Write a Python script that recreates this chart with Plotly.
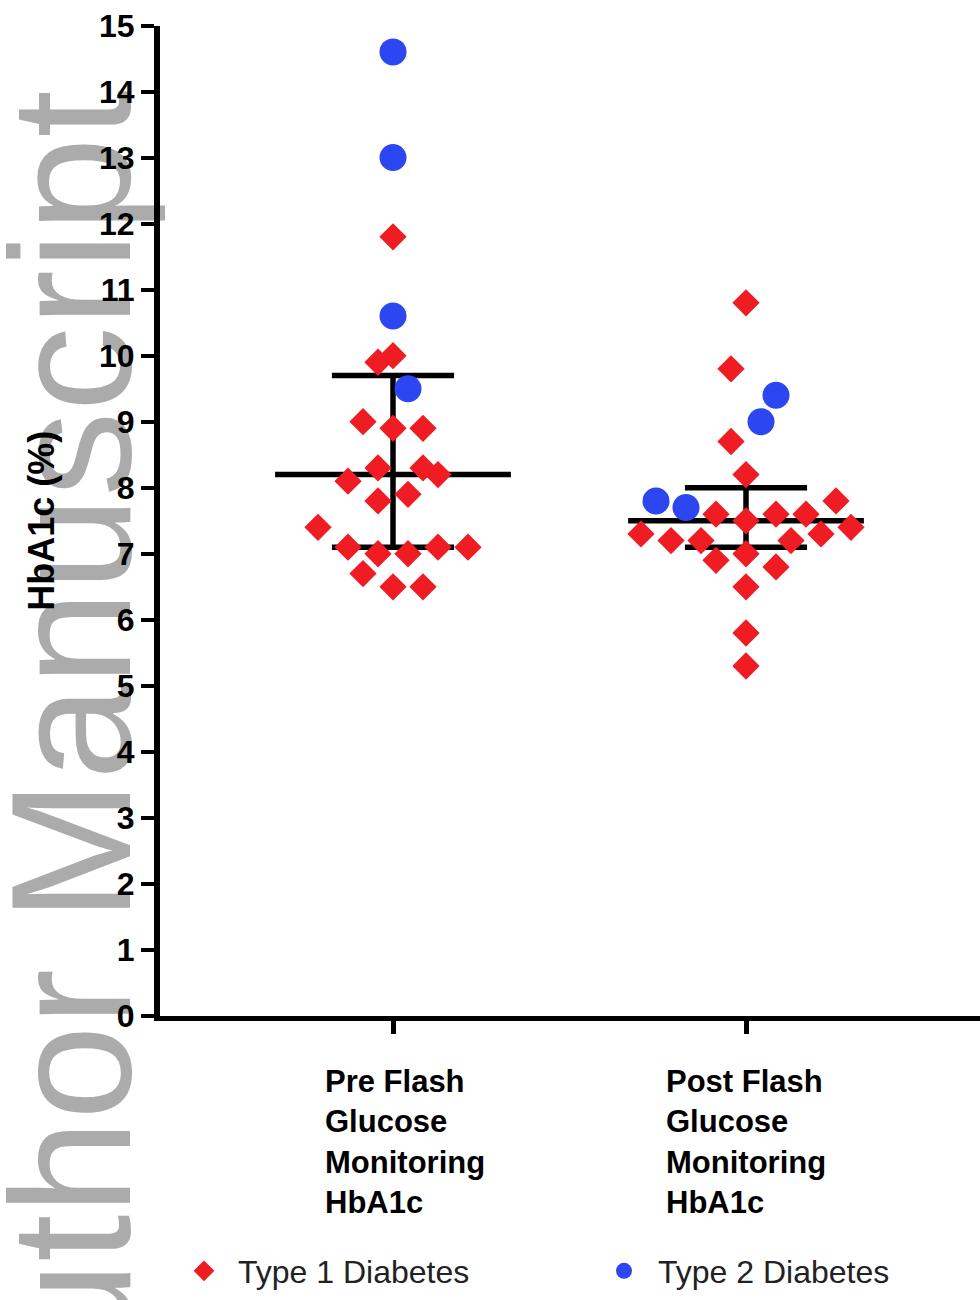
import plotly.graph_objects as go

# ---------------- data ----------------
categories = ["Pre Flash<br>Glucose<br>Monitoring<br>HbA1c",
              "Post Flash<br>Glucose<br>Monitoring<br>HbA1c"]
y_ticks = list(range(0, 16))

# HbA1c values (%) for each group; *_slot = side-by-side scatter column of each point
pre_t1 = [11.8, 10.0, 9.9, 9.0, 8.9, 8.9, 8.3, 8.3, 8.2, 8.1, 7.9, 7.8, 7.4,
          7.1, 7.1, 7.1, 7.0, 7.0, 6.7, 6.5, 6.5]
pre_t1_slot = [0, 0, -1, -2, 0, 2, -1, 2, 3, -3, 1, -1, -5,
               -3, 3, 5, -1, 1, -2, 0, 2]
pre_t2 = [14.6, 13.0, 10.6, 9.5]
pre_t2_slot = [0, 0, 0, 1]

post_t1 = [10.8, 9.8, 8.7, 8.2, 7.8, 7.6, 7.6, 7.6, 7.5, 7.4, 7.3, 7.3,
           7.2, 7.2, 7.2, 7.0, 6.9, 6.8, 6.5, 5.8, 5.3]
post_t1_slot = [0, -1, -1, 0, 6, -2, 2, 4, 0, 7, -7, 5,
                -5, -3, 3, 0, -2, 2, 0, 0, 0]
post_t2 = [9.4, 9.0, 7.8, 7.7]
post_t2_slot = [2, 1, -6, -4]

# median with interquartile range
medians = [8.2, 7.5]
q1 = [7.1, 7.1]
q3 = [9.7, 8.0]

series_names = ["Type 1 Diabetes", "Type 2 Diabetes"]

# ---------------- figure ----------------
W, H = 980, 1300
cat_x = [1, 2]
SLOT = 15 / 353.0        # width of one scatter column in axis units
MED_HALF = 0.334         # half length of the median bar
CAP_HALF = 0.173         # half length of the quartile caps


def xs(center, slots):
    return [center + s * SLOT for s in slots]


t1_x = xs(cat_x[0], pre_t1_slot) + xs(cat_x[1], post_t1_slot)
t1_y = pre_t1 + post_t1
t2_x = xs(cat_x[0], pre_t2_slot) + xs(cat_x[1], post_t2_slot)
t2_y = pre_t2 + post_t2

lx, ly = [], []
for c, m, lo, hi in zip(cat_x, medians, q1, q3):
    lx += [c - MED_HALF, c + MED_HALF, None]
    ly += [m, m, None]
    lx += [c - CAP_HALF, c + CAP_HALF, None]
    ly += [hi, hi, None]
    lx += [c - CAP_HALF, c + CAP_HALF, None]
    ly += [lo, lo, None]
    lx += [c, c, None]
    ly += [lo, hi, None]

fig = go.Figure()
fig.add_trace(go.Scatter(x=lx, y=ly, mode="lines", showlegend=False,
                         line=dict(color="black", width=5.5), hoverinfo="skip"))
fig.add_trace(go.Scatter(x=t1_x, y=t1_y, mode="markers", name=series_names[0],
                         marker=dict(symbol="diamond", size=21, color="#F01C24",
                                     line=dict(width=0))))
fig.add_trace(go.Scatter(x=t2_x, y=t2_y, mode="markers", name=series_names[1],
                         marker=dict(symbol="circle", size=27, color="#2C46F2",
                                     line=dict(width=0))))

x_dom = [160 / W, 1.0]
y_dom = [1 - 1016 / H, 1 - 25.5 / H]
x_range = [1 - (393 - 160) / 353.0, 2 + (980 - 746) / 353.0]

fig.update_layout(
    width=W, height=H,
    margin=dict(l=0, r=0, t=0, b=0, autoexpand=False),
    paper_bgcolor="white", plot_bgcolor="rgba(0,0,0,0)",
    font=dict(family="Arial", color="black"),
    xaxis=dict(domain=x_dom, range=x_range, showgrid=False, zeroline=False,
               showline=True, linewidth=5, linecolor="black",
               tickvals=cat_x, ticktext=["", ""], showticklabels=False,
               ticks="outside", ticklen=13, tickwidth=5, tickcolor="black"),
    yaxis=dict(domain=y_dom, range=[0, 15], showgrid=False, zeroline=False,
               showline=True, linewidth=6, linecolor="black",
               tickvals=y_ticks, ticks="outside", ticklen=13, tickwidth=4,
               tickcolor="black", ticklabelstandoff=0,
               tickfont=dict(family="Arial", size=32, color="black", weight="bold"),
               title=dict(text="HbA1c (%)", standoff=35,
                          font=dict(family="Arial", size=36, color="black", weight="bold"))),
    legend=dict(orientation="h", x=170 / W, xanchor="left", y=1 - 1271 / H,
                yanchor="middle", entrywidth=347, entrywidthmode="pixels",
                itemwidth=58, itemsizing="trace", bgcolor="rgba(0,0,0,0)",
                font=dict(family="Arial", size=32, color="#222222")),
    shapes=[dict(type="rect", xref="paper", yref="paper",
                 x0=0, x1=110 / W, y0=0.1, y1=0.7,
                 line=dict(width=0), fillcolor="rgba(0,0,0,0)", layer="below",
                 label=dict(text="Author Manuscript", textangle=-90,
                            textposition="middle center",
                            font=dict(family="Arial", size=170, color="#ABABAB")))],
)

label_shift = [-70, -82]
for c, txt, sh in zip(cat_x, categories, label_shift):
    fig.add_annotation(x=c, xref="x", y=1 - 1062 / H, yref="paper",
                       text=txt, showarrow=False, xanchor="left", yanchor="top",
                       xshift=sh, align="left",
                       font=dict(family="Arial", size=31, color="black", weight="bold"))

fig.write_html("out.html", config={"displayModeBar": False},
               post_script="document.body.style.margin='0px';")
